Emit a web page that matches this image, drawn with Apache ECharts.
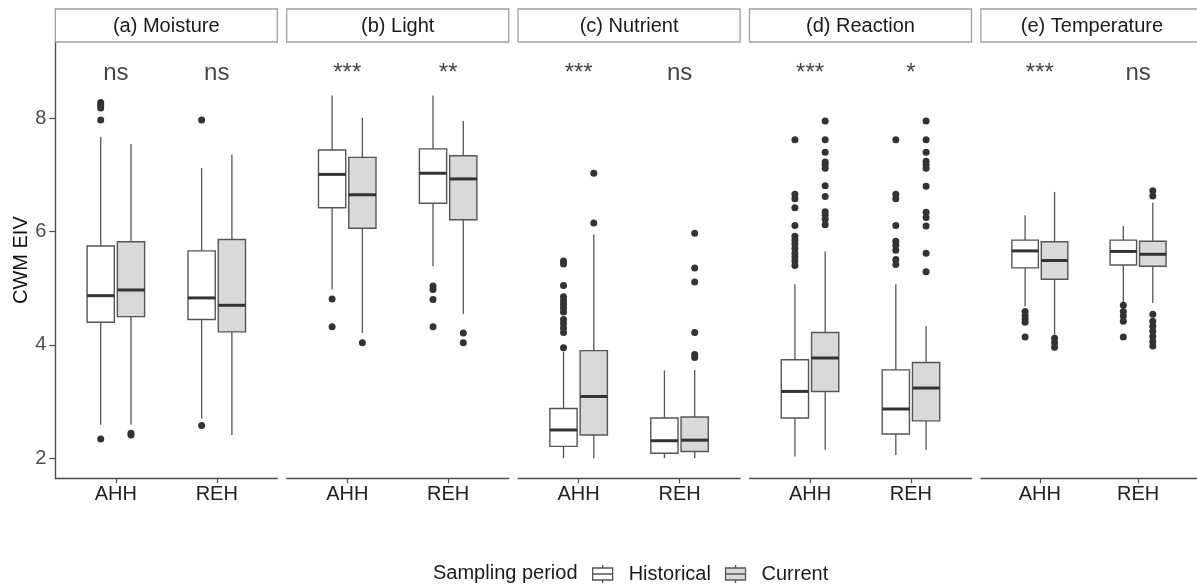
<!DOCTYPE html>
<html><head><meta charset="utf-8">
<script src="https://cdn.jsdelivr.net/npm/echarts@6/dist/echarts.min.js"></script>
<style>html,body{margin:0;padding:0;background:#fff}#c{width:1197px;height:585px}</style>
</head><body><div id="c"></div>
<script>
// ---------- data ----------
const panelTitles = ['(a) Moisture', '(b) Light', '(c) Nutrient', '(d) Reaction', '(e) Temperature'];
const groups = ['AHH', 'REH'];
const periods = ['Historical', 'Current'];
const yTicks = [2, 4, 6, 8];
const sigLabels = [['ns', 'ns'], ['***', '**'], ['***', 'ns'], ['***', '*'], ['***', 'ns']];
const sigY = 8.8;

// box stats: [lower whisker, Q1, median, Q3, upper whisker] for [AHH, REH]
const moistureHist = [[2.59, 4.40, 4.87, 5.745, 7.67], [2.70, 4.45, 4.83, 5.66, 7.12]];
const moistureCurr = [[2.59, 4.50, 4.97, 5.82, 7.545], [2.41, 4.23, 4.70, 5.86, 7.36]];
const lightHist = [[4.98, 6.42, 7.01, 7.44, 8.40], [5.39, 6.50, 7.03, 7.46, 8.40]];
const lightCurr = [[4.21, 6.06, 6.65, 7.31, 8.01], [4.55, 6.21, 6.93, 7.34, 7.95]];
const nutrientHist = [[2.0, 2.21, 2.50, 2.88, 3.88], [2.0, 2.09, 2.31, 2.71, 3.55]];
const nutrientCurr = [[2.0, 2.41, 3.09, 3.90, 5.95], [2.0, 2.12, 2.32, 2.73, 3.56]];
const reactionHist = [[2.03, 2.71, 3.18, 3.74, 5.07], [2.06, 2.43, 2.87, 3.56, 5.07]];
const reactionCurr = [[2.15, 3.18, 3.77, 4.22, 5.65], [2.15, 2.66, 3.24, 3.69, 4.33]];
const temperatureHist = [[4.68, 5.36, 5.66, 5.85, 6.29], [4.74, 5.41, 5.65, 5.85, 6.10]];
const temperatureCurr = [[4.18, 5.16, 5.49, 5.82, 6.70], [4.74, 5.39, 5.60, 5.83, 6.51]];

// outliers for [AHH, REH]
const moistureOutHist = [[8.28, 8.23, 8.18, 7.97, 2.34], [7.97, 2.58]];
const moistureOutCurr = [[2.44, 2.41], []];
const lightOutHist = [[4.81, 4.32], [5.04, 4.98, 4.80, 4.32]];
const lightOutCurr = [[4.04], [4.21, 4.04]];
const nutrientOutHist = [[5.48, 5.43, 5.05, 4.85, 4.78, 4.72, 4.65, 4.58, 4.45, 4.38, 4.30, 4.22, 3.95], []];
const nutrientOutCurr = [[7.03, 6.15], [5.97, 5.36, 5.11, 4.22, 3.83, 3.78]];
const reactionOutHist = [[7.62, 6.66, 6.58, 6.42, 6.11, 5.92, 5.85, 5.78, 5.70, 5.62, 5.55, 5.48, 5.40],
                         [7.62, 6.66, 6.58, 6.11, 5.83, 5.76, 5.67, 5.51, 5.42]];
const reactionOutCurr = [[7.95, 7.62, 7.40, 7.23, 7.18, 7.12, 6.81, 6.62, 6.35, 6.29, 6.22, 6.12],
                         [7.95, 7.62, 7.40, 7.24, 7.18, 7.12, 6.80, 6.34, 6.25, 6.10, 5.62, 5.29]];
const temperatureOutHist = [[4.59, 4.52, 4.46, 4.40, 4.14], [4.70, 4.59, 4.51, 4.42, 4.14]];
const temperatureOutCurr = [[4.12, 4.04, 3.96], [6.72, 6.63, 4.54, 4.42, 4.33, 4.24, 4.15, 4.06, 3.98]];

const histBoxes = [moistureHist, lightHist, nutrientHist, reactionHist, temperatureHist];
const currBoxes = [moistureCurr, lightCurr, nutrientCurr, reactionCurr, temperatureCurr];
const histOut = [moistureOutHist, lightOutHist, nutrientOutHist, reactionOutHist, temperatureOutHist];
const currOut = [moistureOutCurr, lightOutCurr, nutrientOutCurr, reactionOutCurr, temperatureOutCurr];

// ---------- layout / style ----------
const FONT = 'Liberation Sans, Arial, sans-serif';
const P_LEFT = 55.3, P_STEP = 231.4, P_W = 222, P_TOP = 42, P_H = 436.3;
const Y_MIN = 1.647, Y_MAX = 9.346;
const DODGE = 0.15, BOX_W = 0.27;
const FILLS = ['#ffffff', '#d9d9d9'];
const LINE = '#555555';

const chart = echarts.init(document.getElementById('c'), null, {renderer: 'canvas'});

const grids = [], xAxes = [], yAxes = [], series = [], graphics = [];

panelTitles.forEach((title, p) => {
  const left = P_LEFT + p * P_STEP;
  grids.push({left: left, top: P_TOP, width: P_W, height: P_H, containLabel: false});
  xAxes.push({
    type: 'value', gridIndex: p, min: 0.4, max: 2.6,
    axisLine: {show: true, lineStyle: {color: '#4d4d4d', width: 1.4}},
    axisTick: {show: true, customValues: [1, 2], length: 5, lineStyle: {color: '#4d4d4d', width: 1.2}},
    axisLabel: {show: true, customValues: [1, 2], formatter: v => groups[Math.round(v) - 1],
      fontFamily: FONT, fontSize: 20, color: '#222', margin: 6},
    splitLine: {show: false}
  });
  yAxes.push({
    type: 'value', gridIndex: p, min: Y_MIN, max: Y_MAX,
    name: p === 0 ? 'CWM EIV' : '', nameLocation: 'middle', nameGap: 24,
    nameTextStyle: {fontFamily: FONT, fontSize: 20, color: '#111'},
    axisLine: {show: p === 0, lineStyle: {color: '#4d4d4d', width: 1.4}},
    axisTick: {show: p === 0, customValues: yTicks, length: 6, lineStyle: {color: '#4d4d4d', width: 1.2}},
    axisLabel: {show: p === 0, customValues: yTicks, fontFamily: FONT, fontSize: 20, color: '#4d4d4d', margin: 9},
    splitLine: {show: false}
  });

  // strip
  graphics.push({type: 'rect', shape: {x: left, y: 9, width: P_W, height: 33},
    style: {fill: '#ffffff', stroke: '#a0a0a0', lineWidth: 1.3}, z: 10});
  graphics.push({type: 'text', x: left + P_W / 2, y: 26,
    style: {text: title, font: '20px ' + FONT, fill: '#1a1a1a', textAlign: 'center', textVerticalAlign: 'middle'}, z: 11});

  [histBoxes[p], currBoxes[p]].forEach((stats, k) => {
    const off = k === 0 ? -DODGE : DODGE;
    series.push({
      type: 'custom', name: periods[k], xAxisIndex: p, yAxisIndex: p, silent: true,
      data: stats.map((s, i) => [i + 1, s[0], s[1], s[2], s[3], s[4]]),
      encode: {x: 0, y: [1, 2, 3, 4, 5]},
      itemStyle: {color: FILLS[k]},
      renderItem: (params, api) => {
        const x = api.value(0) + off;
        const low = api.coord([x, api.value(1)]);
        const q1 = api.coord([x, api.value(2)]);
        const med = api.coord([x, api.value(3)]);
        const q3 = api.coord([x, api.value(4)]);
        const high = api.coord([x, api.value(5)]);
        const hw = api.size([BOX_W, 0])[0] / 2;
        return {type: 'group', children: [
          {type: 'line', shape: {x1: low[0], y1: low[1], x2: q1[0], y2: q1[1]}, style: {stroke: LINE, lineWidth: 1.3}},
          {type: 'line', shape: {x1: q3[0], y1: q3[1], x2: high[0], y2: high[1]}, style: {stroke: LINE, lineWidth: 1.3}},
          {type: 'rect', shape: {x: q3[0] - hw, y: q3[1], width: 2 * hw, height: q1[1] - q3[1]},
            style: {fill: FILLS[k], stroke: LINE, lineWidth: 1.4}},
          {type: 'line', shape: {x1: med[0] - hw, y1: med[1], x2: med[0] + hw, y2: med[1]}, style: {stroke: '#333', lineWidth: 3}}
        ]};
      }
    });
  });

  [histOut[p], currOut[p]].forEach((outs, k) => {
    const off = k === 0 ? -DODGE : DODGE;
    const pts = [];
    outs.forEach((arr, i) => arr.forEach(v => pts.push([i + 1 + off, v])));
    series.push({type: 'scatter', name: 'out' + p + k, xAxisIndex: p, yAxisIndex: p, silent: true,
      symbol: 'circle', symbolSize: 7, itemStyle: {color: '#333', opacity: 1}, data: pts, z: 3});
  });

  series.push({type: 'scatter', name: 'sig' + p, xAxisIndex: p, yAxisIndex: p, silent: true,
    symbolSize: 0, data: sigLabels[p].map((s, i) => [i + 1, sigY, s]),
    label: {show: true, position: 'inside', formatter: q => q.data[2], fontFamily: FONT, fontSize: 24, color: '#111'}});
});

graphics.push({type: 'text', x: 433, y: 573,
  style: {text: 'Sampling period', font: '20px ' + FONT, fill: '#1a1a1a', textAlign: 'left', textVerticalAlign: 'middle'}});

const ICON = 'path://M0,3H20V15H0Z M0,9H20 M10,0V3 M10,15V18';

chart.setOption({
  animation: false,
  backgroundColor: '#ffffff',
  grid: grids, xAxis: xAxes, yAxis: yAxes, series: series, graphic: graphics,
  legend: {
    left: 592, top: 564, padding: 0, itemWidth: 20, itemHeight: 18, itemGap: 14,
    selectedMode: false,
    textStyle: {fontFamily: FONT, fontSize: 20, color: '#1a1a1a', padding: [0, 0, 0, 11]},
    data: [
      {name: 'Historical', icon: ICON, itemStyle: {color: FILLS[0], borderColor: LINE, borderWidth: 1.3}},
      {name: 'Current', icon: ICON, itemStyle: {color: FILLS[1], borderColor: LINE, borderWidth: 1.3}}
    ]
  }
});
</script></body></html>
